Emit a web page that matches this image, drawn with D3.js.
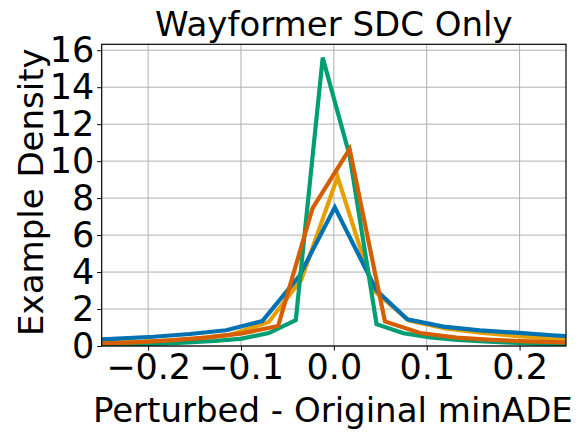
<!DOCTYPE html>
<html>
<head>
<meta charset="utf-8">
<script src="https://cdn.jsdelivr.net/npm/d3@7"></script>
<style>
html,body{margin:0;padding:0;background:#fff;}
svg{display:block;font-family:"DejaVu Sans",sans-serif;}
</style>
</head>
<body>
<svg id="chart" width="578" height="437"></svg>
<script>
// ---- data ----
const title = "Wayformer SDC Only";
const xLabel = "Perturbed - Original minADE";
const yLabel = "Example Density";
const xTicks = [-0.2, -0.1, 0.0, 0.1, 0.2];
const yTicks = [0, 2, 4, 6, 8, 10, 12, 14, 16];

const orangeX = [-0.300, -0.265, -0.227, -0.188, -0.150, -0.112, -0.070, -0.035, 0.004, 0.043, 0.081, 0.120, 0.158, 0.196, 0.235, 0.274];
const orangeY = [0.10, 0.15, 0.20, 0.27, 0.40, 0.60, 1.30, 3.60, 9.15, 3.00, 1.38, 0.95, 0.72, 0.55, 0.40, 0.32];

const blueX = [-0.272, -0.233, -0.194, -0.155, -0.116, -0.077, -0.037, 0.001, 0.046, 0.079, 0.118, 0.157, 0.196, 0.235, 0.274];
const blueY = [0.30, 0.40, 0.50, 0.65, 0.85, 1.35, 3.80, 7.50, 3.00, 1.44, 1.05, 0.85, 0.72, 0.58, 0.45];

const greenX = [-0.273, -0.244, -0.215, -0.186, -0.157, -0.128, -0.099, -0.070, -0.041, -0.012, 0.017, 0.046, 0.075, 0.104, 0.133, 0.162, 0.191, 0.220, 0.249, 0.278];
const greenY = [0.05, 0.07, 0.09, 0.13, 0.19, 0.27, 0.40, 0.70, 1.40, 15.60, 10.30, 1.18, 0.69, 0.47, 0.33, 0.25, 0.18, 0.13, 0.10, 0.08];

const vermX = [-0.291, -0.253, -0.214, -0.176, -0.137, -0.099, -0.060, -0.023, 0.017, 0.055, 0.093, 0.132, 0.170, 0.209, 0.247, 0.286];
const vermY = [0.10, 0.13, 0.20, 0.30, 0.45, 0.68, 1.08, 7.44, 10.65, 1.33, 0.70, 0.45, 0.33, 0.25, 0.20, 0.15];

const seriesColors = ["#E69F00", "#0072B2", "#009E73", "#D55E00"];

// ---- layout ----
const svg = d3.select("#chart");
const m = {left: 101.7, right: 566, top: 44.3, bottom: 346};
const x = d3.scaleLinear().domain([-0.25, 0.25]).range([m.left, m.right]);
const y = d3.scaleLinear().domain([0, 16.32]).range([m.bottom, m.top]);
const FS = 34;
const TFS = 35;

// clip
svg.append("defs").append("clipPath").attr("id", "clip")
  .append("rect").attr("x", m.left).attr("y", m.top)
  .attr("width", m.right - m.left).attr("height", m.bottom - m.top);

// grid
const grid = svg.append("g");
xTicks.forEach(t => grid.append("line")
  .attr("x1", x(t)).attr("x2", x(t)).attr("y1", m.top).attr("y2", m.bottom)
  .attr("stroke", "#b0b0b0").attr("stroke-width", 1));
yTicks.forEach(t => grid.append("line")
  .attr("x1", m.left).attr("x2", m.right).attr("y1", y(t)).attr("y2", y(t))
  .attr("stroke", "#b0b0b0").attr("stroke-width", 1));

// lines
const series = [
  {xs: orangeX, ys: orangeY},
  {xs: blueX, ys: blueY},
  {xs: greenX, ys: greenY},
  {xs: vermX, ys: vermY}
];
const line = d3.line().x(d => x(d[0])).y(d => y(d[1]));
const lg = svg.append("g").attr("clip-path", "url(#clip)");
series.forEach((s, i) => {
  const pts = s.xs.map((v, j) => [v, s.ys[j]]);
  lg.append("path").attr("d", line(pts)).attr("fill", "none")
    .attr("stroke", seriesColors[i]).attr("stroke-width", 4.2)
    .attr("stroke-linejoin", "miter").attr("stroke-linecap", "butt");
});

// axes
const xAxis = d3.axisBottom(x).tickValues(xTicks).tickSize(4.5).tickPadding(4)
  .tickFormat(d => d3.format(".1f")(d).replace("-", "\u2212"));
const gx = svg.append("g").attr("transform", `translate(0,${m.bottom})`).call(xAxis);
gx.select(".domain").remove();
gx.selectAll("line").attr("stroke", "#000").attr("stroke-width", 1);
gx.selectAll("text").attr("font-size", TFS).attr("fill", "#000")
  .attr("font-family", "DejaVu Sans");

const yAxis = d3.axisLeft(y).tickValues(yTicks).tickSize(4.5).tickPadding(3);
const gy = svg.append("g").attr("transform", `translate(${m.left},0)`).call(yAxis);
gy.select(".domain").remove();
gy.selectAll("line").attr("stroke", "#000").attr("stroke-width", 1);
gy.selectAll("text").attr("font-size", TFS).attr("fill", "#000")
  .attr("font-family", "DejaVu Sans");

// frame
svg.append("rect").attr("x", m.left).attr("y", m.top)
  .attr("width", m.right - m.left).attr("height", m.bottom - m.top)
  .attr("fill", "none").attr("stroke", "#000").attr("stroke-width", 1.2);

// labels
svg.append("text").attr("x", (m.left + m.right) / 2).attr("y", 36)
  .attr("text-anchor", "middle").attr("font-size", FS).text(title);
svg.append("text").attr("x", (m.left + m.right) / 2 - 1).attr("y", 422)
  .attr("text-anchor", "middle").attr("font-size", FS).text(xLabel);
svg.append("text").attr("transform", `translate(43,${(m.top + m.bottom) / 2 - 3}) rotate(-90)`)
  .attr("text-anchor", "middle").attr("font-size", FS).text(yLabel);
</script>
</body>
</html>
